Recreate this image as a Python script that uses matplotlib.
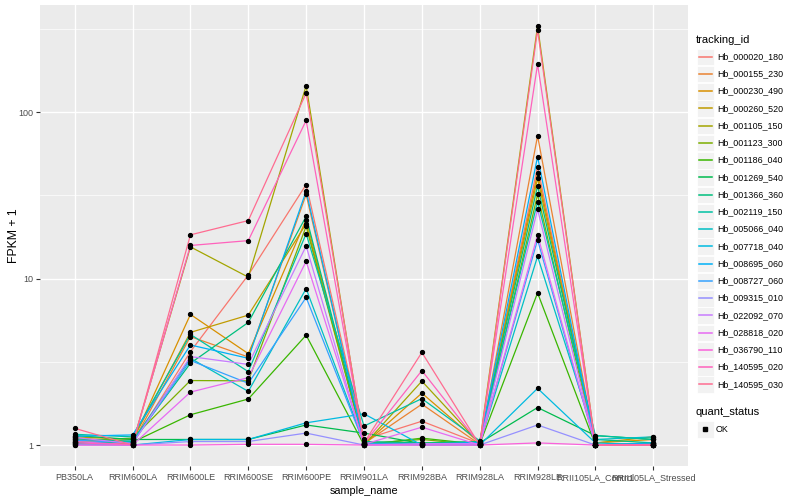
import numpy as np
import matplotlib
matplotlib.use("Agg")
import matplotlib.pyplot as plt
from matplotlib.patches import Rectangle
from matplotlib.lines import Line2D

plt.rcParams['font.family'] = ['Liberation Sans', 'DejaVu Sans']

samples = ["PB350LA", "RRIM600LA", "RRIM600LE", "RRIM600SE", "RRIM600PE",
           "RRIM901LA", "RRIM928BA", "RRIM928LA", "RRIM928LE",
           "RRII105LA_Control", "RRII105LA_Stressed"]

tracking_ids = ["Hb_000020_180", "Hb_000155_230", "Hb_000230_490", "Hb_000260_520",
                "Hb_001105_150", "Hb_001123_300", "Hb_001186_040", "Hb_001269_540",
                "Hb_001366_360", "Hb_002119_150", "Hb_005066_040", "Hb_007718_040",
                "Hb_008695_060", "Hb_008727_060", "Hb_009315_010", "Hb_022092_070",
                "Hb_028818_020", "Hb_036790_110", "Hb_140595_020", "Hb_140595_030"]

colors = ["#F8766D", "#EA8331", "#D89000", "#C09B00", "#A3A500", "#7CAE00", "#39B600",
          "#00BB4E", "#00BF7D", "#00C1A3", "#00BFC4", "#00BAE0", "#00B0F6", "#35A2FF",
          "#9590FF", "#C77CFF", "#E76BF3", "#FA62DB", "#FF62BC", "#FF6C91"]

# FPKM + 1 per sample, one value per tracking_id (same order as tracking_ids)
pb350la = [1.08, 1.05, 1.10, 1.12, 1.04, 1.06, 1.03, 1.14, 1.09, 1.16, 1.02, 1.01, 1.13, 1.07, 1.0, 1.11, 1.05, 1.0, 1.03, 1.26]
rrim600la = [1.02, 1.03, 1.05, 1.08, 1.02, 1.10, 1.04, 1.08, 1.05, 1.12, 1.06, 1.0, 1.15, 1.03, 1.0, 1.02, 1.0, 1.0, 1.01, 1.0]
rrim600le = [3.64, 4.48, 6.09, 4.75, 15.5, 2.44, 1.52, 1.08, 3.10, 4.62, 3.32, 1.08, 3.99, 3.22, 1.05, 3.40, 2.08, 1.0, 15.8, 18.3]
rrim600se = [10.5, 3.38, 3.54, 6.03, 10.2, 2.43, 1.89, 1.08, 5.45, 2.76, 2.10, 1.08, 3.32, 2.35, 1.05, 3.05, 2.54, 1.01, 16.9, 22.3]
rrim600pe = [36.7, 32.0, 22.6, 21.3, 144.0, 20.6, 4.57, 1.32, 23.6, 18.6, 8.7, 1.36, 33.5, 7.7, 1.18, 15.7, 12.7, 1.01, 89.0, 130.0]
rrim901la = [1.08, 1.02, 1.01, 1.03, 1.0, 1.02, 1.0, 1.18, 1.05, 1.30, 1.03, 1.54, 1.01, 1.02, 1.0, 1.0, 1.01, 1.0, 1.02, 1.03]
rrim928ba = [1.39, 1.76, 2.05, 1.03, 2.42, 1.08, 1.10, 1.02, 1.03, 1.90, 1.02, 1.0, 1.01, 1.0, 1.0, 1.02, 1.28, 1.0, 2.8, 3.6]
rrim928la = [1.02, 1.01, 1.03, 1.04, 1.02, 1.0, 1.01, 1.03, 1.05, 1.06, 1.02, 1.0, 1.04, 1.01, 1.0, 1.02, 1.0, 1.0, 1.01, 1.0]
rrim928le = [47.0, 72.0, 43.0, 40.0, 329.0, 32.0, 8.2, 1.68, 36.0, 29.0, 13.6, 2.19, 54.0, 17.1, 1.32, 26.0, 18.3, 1.03, 194.0, 311.0]
rrii105la_control = [1.0, 1.0, 1.03, 1.03, 1.0, 1.0, 1.0, 1.14, 1.08, 1.14, 1.08, 1.03, 1.0, 1.0, 1.0, 1.0, 1.0, 1.0, 1.0, 1.0]
rrii105la_stressed = [1.03, 1.02, 1.08, 1.12, 1.03, 1.0, 1.0, 1.08, 1.03, 1.08, 1.12, 1.0, 1.03, 1.01, 1.0, 1.0, 1.0, 1.0, 1.0, 1.0]

y_breaks = [1, 10, 100]
y_labels = ["1", "10", "100"]

table = np.array([pb350la, rrim600la, rrim600le, rrim600se, rrim600pe, rrim901la,
                  rrim928ba, rrim928la, rrim928le, rrii105la_control, rrii105la_stressed]).T

W, H = 800, 500
fig = plt.figure(figsize=(8, 5), dpi=100)
px = lambda x0, y0, x1, y1: [x0 / W, 1 - y1 / H, (x1 - x0) / W, (y1 - y0) / H]
ax = fig.add_axes(px(40, 5, 688, 466))
ax.set_facecolor("#EBEBEB")
for s in ax.spines.values():
    s.set_visible(False)

xs = np.arange(len(samples))
for i, tid in enumerate(tracking_ids):
    ax.plot(xs, table[i], color=colors[i], lw=0.9, zorder=2, solid_capstyle='butt')
for i in range(len(tracking_ids)):
    ax.plot(xs, table[i], ls='none', marker='o', ms=2.8, color='black', zorder=3)

ax.set_yscale('log')
lmin, lmax = np.log10(table.min()), np.log10(table.max())
pad = 0.05 * (lmax - lmin)
ax.set_ylim(10 ** (lmin - pad), 10 ** (lmax + pad))
ax.set_xlim(-0.6, len(samples) - 1 + 0.6)

ax.set_yticks(y_breaks)
ax.set_yticklabels(y_labels)
ax.set_yticks([10 ** 0.5, 10 ** 1.5, 10 ** 2.5], minor=True)
ax.yaxis.set_minor_formatter(matplotlib.ticker.NullFormatter())
ax.set_xticks(xs)
ax.set_xticklabels(samples)

ax.grid(True, which='major', color='white', lw=1.0, zorder=0)
ax.grid(True, which='minor', axis='y', color='white', lw=0.5, zorder=0)
ax.set_axisbelow(True)
ax.tick_params(which='major', length=3, width=0.8, color='#333333',
               labelsize=6.5, labelcolor='#4D4D4D', pad=2)
ax.tick_params(which='minor', length=0)

ax.set_xlabel("sample_name", fontsize=7.8, color='black', labelpad=3)
ax.set_ylabel("FPKM + 1", fontsize=8.8, color='black')
ax.yaxis.set_label_coords(-20 / 648, 0.5)

# Legend drawn in pixel coordinates
lax = fig.add_axes([0, 0, 1, 1])
lax.set_xlim(0, W)
lax.set_ylim(H, 0)
lax.axis('off')
lax.text(696, 40, "tracking_id", fontsize=8, va='center', ha='left')
y0, dy = 56.7, 17.25
for i, tid in enumerate(tracking_ids):
    yc = y0 + i * dy
    lax.add_patch(Rectangle((697, yc - 8), 16.5, 16.5, facecolor='#F2F2F2', edgecolor='white', lw=0.6))
    lax.add_line(Line2D([698.5, 711.5], [yc, yc], color=colors[i], lw=1.1))
    lax.text(717, yc, tid, fontsize=6.4, va='center', ha='left')
lax.text(696, 412, "quant_status", fontsize=8, va='center', ha='left')
lax.add_patch(Rectangle((697, 421), 16.5, 16.5, facecolor='#F2F2F2', edgecolor='white', lw=0.6))
lax.plot([705], [429], marker='s', ms=2.4, color='black', ls='none')
lax.text(716, 429, "OK", fontsize=6.4, va='center', ha='left')

fig.savefig("out.png", dpi=100)
